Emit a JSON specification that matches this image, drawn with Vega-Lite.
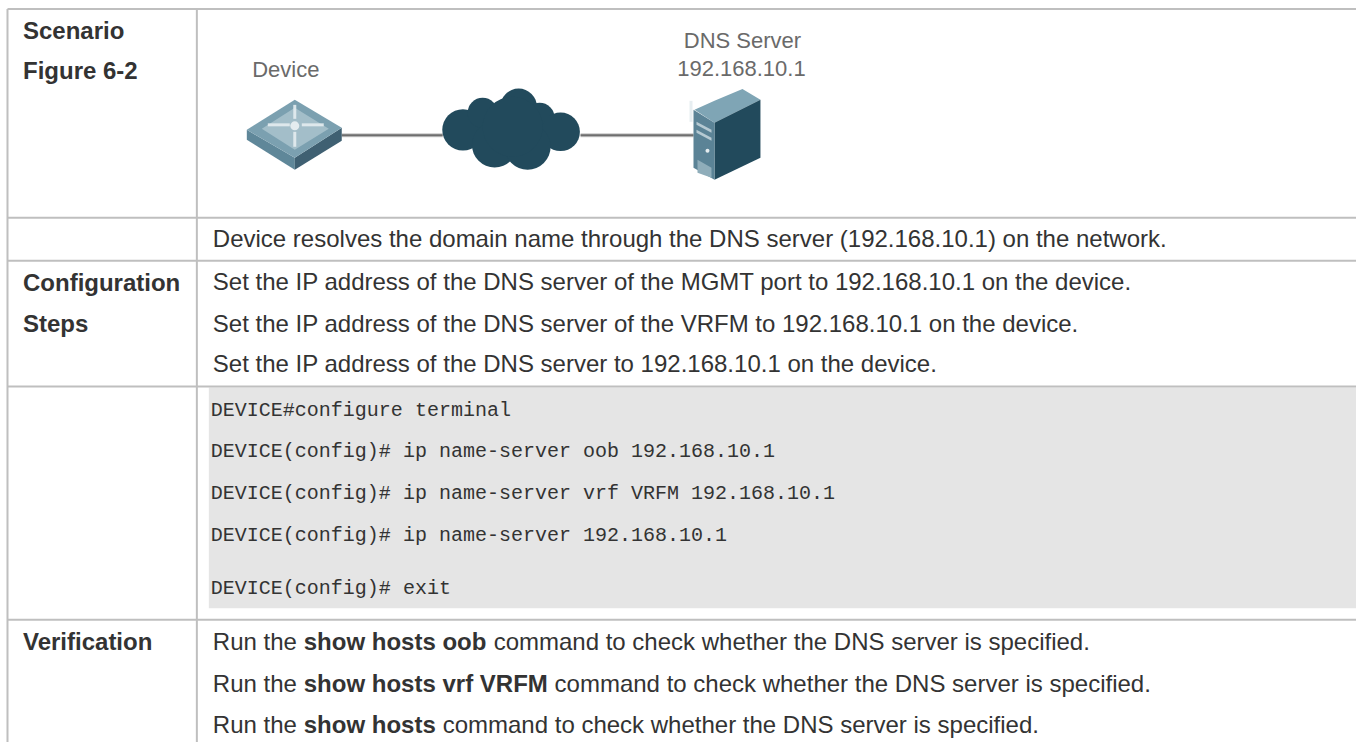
{"$schema":"https://vega.github.io/schema/vega-lite/v6.json","width":1357,"height":743,"padding":0,"autosize":{"type":"fit","contains":"padding"},"background":"white","view":{"stroke":null},
"encoding":{"x":{"field":"x","type":"quantitative","scale":{"domain":[0,1357],"nice":false,"zero":false},"axis":null},"y":{"field":"y","type":"quantitative","scale":{"domain":[743,0],"nice":false,"zero":false},"axis":null}},
"layer":[
{"data":{"values":[{"x":209,"x2":1357,"y":388,"y2":609}]},"mark":{"type":"rect","fill":"#e5e5e5"},"encoding":{"x2":{"field":"x2"},"y2":{"field":"y2"}}},
{"data":{"values":[{"x":7.5,"x2":1357,"y":9,"y2":9},{"x":7.5,"x2":1357,"y":218,"y2":218},{"x":7.5,"x2":1357,"y":261,"y2":261},{"x":7.5,"x2":1357,"y":387,"y2":387},{"x":7.5,"x2":1357,"y":620.5,"y2":620.5},{"x":7.5,"x2":7.5,"y":9,"y2":743},{"x":197,"x2":197,"y":9,"y2":743}]},"mark":{"type":"rule","stroke":"#bfbfbf","strokeWidth":2},"encoding":{"x2":{"field":"x2"},"y2":{"field":"y2"}}},
{"data":{"values":[{"x":342,"x2":443,"y":135.5,"y2":135.5},{"x":581,"x2":694,"y":135.5,"y2":135.5}]},"mark":{"type":"rule","stroke":"#c9c9c9","strokeWidth":4},"encoding":{"x2":{"field":"x2"},"y2":{"field":"y2"}}},
{"data":{"values":[{"x":342,"x2":443,"y":135.5,"y2":135.5},{"x":581,"x2":694,"y":135.5,"y2":135.5}]},"mark":{"type":"rule","stroke":"#6e6e6e","strokeWidth":2},"encoding":{"x2":{"field":"x2"},"y2":{"field":"y2"}}},
{"data":{"values":[{"x":463.3,"y":130,"d":41.4},{"x":483,"y":113,"d":30},{"x":519,"y":107,"d":36.6},{"x":540,"y":118,"d":30},{"x":561,"y":132,"d":38.6},{"x":495,"y":145,"d":45.4},{"x":528,"y":147,"d":46},{"x":513,"y":127,"d":60}]},"mark":{"type":"point","shape":"circle","filled":true,"fill":"#224a5c","opacity":1,"strokeWidth":0},"encoding":{"size":{"field":"d","type":"quantitative","legend":null,"scale":{"type":"pow","exponent":2,"domain":[0,100],"range":[0,10000]}}}},
{"data":{"values":[
{"p":"a","c":"#5f8799","x":247,"y":130,"y2":140},{"p":"a","c":"#5f8799","x":295,"y":158,"y2":170},
{"p":"b","c":"#3f6072","x":295,"y":158,"y2":170},{"p":"b","c":"#3f6072","x":342,"y":128,"y2":141},
{"p":"c","c":"#7ba0b0","x":247,"y":130,"y2":130},{"p":"c","c":"#7ba0b0","x":295,"y":100,"y2":158},{"p":"c","c":"#7ba0b0","x":342,"y":128,"y2":128},
{"p":"d","c":"#a3bec9","x":262,"y":129,"y2":129},{"p":"d","c":"#a3bec9","x":295,"y":108,"y2":150},{"p":"d","c":"#a3bec9","x":329,"y":129,"y2":129},
{"p":"e","c":"#7fa5b5","x":695,"y":110,"y2":110},{"p":"e","c":"#7fa5b5","x":715,"y":101,"y2":123},{"p":"e","c":"#7fa5b5","x":743,"y":89,"y2":109},{"p":"e","c":"#7fa5b5","x":761,"y":100,"y2":100},
{"p":"f","c":"#224a5c","x":715,"y":123,"y2":180},{"p":"f","c":"#224a5c","x":761,"y":100,"y2":158},
{"p":"g","c":"#5b8396","x":694,"y":110,"y2":168},{"p":"g","c":"#5b8396","x":715,"y":123,"y2":180},
{"p":"h","c":"#b5c9d2","x":697,"y":122,"y2":125},{"p":"h","c":"#b5c9d2","x":712,"y":130,"y2":133},
{"p":"i","c":"#b6cad3","x":697,"y":130,"y2":133},{"p":"i","c":"#b6cad3","x":712,"y":138,"y2":141},
{"p":"j","c":"#8fadba","x":698,"y":160,"y2":173},{"p":"j","c":"#8fadba","x":712,"y":168,"y2":178}
]},"mark":{"type":"area","interpolate":"linear"},"encoding":{"y2":{"field":"y2"},"detail":{"field":"p"},"color":{"field":"c","type":"nominal","scale":null}}},
{"data":{"values":[{"x":268,"x2":290,"y":125,"y2":125},{"x":302,"x2":324,"y":125,"y2":125},{"x":295,"x2":295,"y":105,"y2":119},{"x":295,"x2":295,"y":132,"y2":147},{"x":691.5,"x2":691.5,"y":101,"y2":122}]},"mark":{"type":"rule","stroke":"#e4ecef","strokeWidth":3,"opacity":0.9},"encoding":{"x2":{"field":"x2"},"y2":{"field":"y2"}}},
{"data":{"values":[{"x":295,"y":126,"d":9},{"x":708,"y":151,"d":4}]},"mark":{"type":"point","shape":"circle","filled":true,"fill":"#e4ecef","opacity":1,"strokeWidth":0},"encoding":{"size":{"field":"d","type":"quantitative","legend":null,"scale":{"type":"pow","exponent":2,"domain":[0,100],"range":[0,10000]}}}},
{"data":{"values":[{"t":"Device","x":286,"y":77},{"t":"DNS Server","x":743,"y":48},{"t":"192.168.10.1","x":742,"y":76}]},"mark":{"type":"text","align":"center","baseline":"alphabetic","font":"Liberation Sans","fontSize":22,"color":"#6a6a6a"},"encoding":{"text":{"field":"t"}}},
{"data":{"values":[
{"t":"Scenario","x":23,"y":39},{"t":"Figure 6-2","x":23,"y":79},{"t":"Configuration","x":23,"y":291},{"t":"Steps","x":23,"y":332},{"t":"Verification","x":23,"y":651},
{"t":"show hosts oob","x":304,"y":651},{"t":"show hosts vrf VRFM","x":304,"y":693},{"t":"show hosts","x":304,"y":734}
]},"mark":{"type":"text","align":"left","baseline":"alphabetic","font":"Liberation Sans","fontSize":24,"fontWeight":"bold","color":"#333333"},"encoding":{"text":{"field":"t"}}},
{"data":{"values":[
{"t":"Device resolves the domain name through the DNS server (192.168.10.1) on the network.","x":213,"y":247},
{"t":"Set the IP address of the DNS server of the MGMT port to 192.168.10.1 on the device.","x":213,"y":290},
{"t":"Set the IP address of the DNS server of the VRFM to 192.168.10.1 on the device.","x":213,"y":332},
{"t":"Set the IP address of the DNS server to 192.168.10.1 on the device.","x":213,"y":373},
{"t":"Run the","x":213,"y":651},{"t":"command to check whether the DNS server is specified.","x":494,"y":651},
{"t":"Run the","x":213,"y":693},{"t":"command to check whether the DNS server is specified.","x":555,"y":693},
{"t":"Run the","x":213,"y":734},{"t":"command to check whether the DNS server is specified.","x":443,"y":734}
]},"mark":{"type":"text","align":"left","baseline":"alphabetic","font":"Liberation Sans","fontSize":24,"color":"#333333"},"encoding":{"text":{"field":"t"}}},
{"data":{"values":[
{"t":"DEVICE#configure terminal","x":211,"y":417},{"t":"DEVICE(config)# ip name-server oob 192.168.10.1","x":211,"y":458},{"t":"DEVICE(config)# ip name-server vrf VRFM 192.168.10.1","x":211,"y":500},{"t":"DEVICE(config)# ip name-server 192.168.10.1","x":211,"y":542},{"t":"DEVICE(config)# exit","x":211,"y":595}
]},"mark":{"type":"text","align":"left","baseline":"alphabetic","font":"Liberation Mono","fontSize":20,"color":"#333333"},"encoding":{"text":{"field":"t"}}}
]}
